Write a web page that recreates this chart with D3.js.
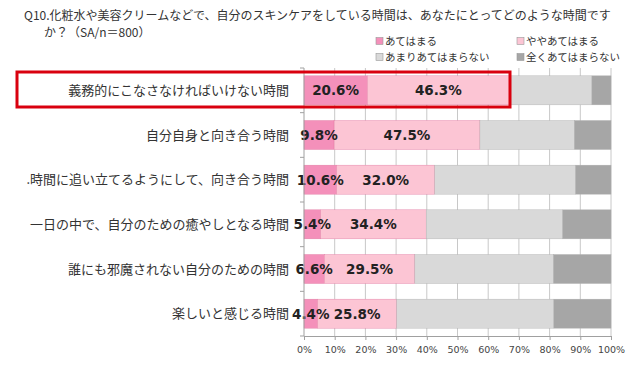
<!DOCTYPE html>
<html>
<head>
<meta charset="utf-8">
<script src="https://cdn.jsdelivr.net/npm/d3@7"></script>
<style>
  body { margin: 0; background: #fff; }
  svg { display: block; font-family: "Noto Sans CJK JP", "Noto Sans", sans-serif; }
</style>
</head>
<body>
<svg id="chart" width="640" height="378"></svg>
<script>
// Q10 スキンケアの時間 — 100% 積み上げ横棒
const categories = [
  '義務的にこなさなければいけない時間',
  '自分自身と向き合う時間',
  '.時間に追い立てるようにして、向き合う時間',
  '一日の中で、自分のための癒やしとなる時間',
  '誰にも邪魔されない自分のための時間',
  '楽しいと感じる時間'
];
const seriesNames = ['あてはまる', 'ややあてはまる', 'あまりあてはまらない', '全くあてはまらない'];
const atehamaru   = [20.6, 9.8, 10.6, 5.4, 6.6, 4.4];
const yaya        = [46.3, 47.5, 32.0, 34.4, 29.5, 25.8];
const amari       = [26.9, 30.8, 45.9, 44.5, 45.2, 51.2];
const mattaku     = [6.2, 11.9, 11.5, 15.7, 18.7, 18.6];
const xTicks = [0, 10, 20, 30, 40, 50, 60, 70, 80, 90, 100];

const colors = ['#f490ba', '#fcc5d4', '#d9d9d9', '#a6a6a6'];

const svg = d3.select('#chart');
const M = { left: 304, right: 611, top: 68, bottom: 336 };

const x = d3.scaleLinear().domain([0, 100]).range([M.left, M.right]);
const y = d3.scaleBand().domain(categories).range([M.top, M.bottom]).paddingInner(0.35).paddingOuter(0.175);

// タイトル（2行）
svg.append('text').attr('x', 24).attr('y', 20)
  .attr('font-size', 12).attr('fill', '#333')
  .text('Q10.化粧水や美容クリームなどで、自分のスキンケアをしている時間は、あなたにとってどのような時間です');
svg.append('text').attr('x', 44).attr('y', 37)
  .attr('font-size', 12).attr('fill', '#333')
  .text('か？（SA/n＝800）');

// 凡例
const legendPos = [[376, 41], [517, 41], [376, 57], [517, 57]];
seriesNames.forEach((name, i) => {
  const [lx, ly] = legendPos[i];
  svg.append('rect').attr('x', lx).attr('y', ly - 3.5).attr('width', 7).attr('height', 7)
    .attr('fill', colors[i]).attr('stroke', '#999').attr('stroke-width', 0.6);
  svg.append('text').attr('x', lx + 9).attr('y', ly + 4)
    .attr('font-size', 10.5).attr('fill', '#333').text(name);
});

// グリッド線
svg.append('g').selectAll('line').data(xTicks.slice(1)).join('line')
  .attr('x1', d => x(d)).attr('x2', d => x(d))
  .attr('y1', M.top).attr('y2', M.bottom)
  .attr('stroke', '#c8c8c8').attr('stroke-width', 1);

// 積み上げ
const rows = categories.map((c, i) => ({
  cat: c, v: [atehamaru[i], yaya[i], amari[i], mattaku[i]]
}));
const stack = d3.stack().keys([0, 1, 2, 3]).value((d, k) => d.v[k]);
const layers = stack(rows);

const gBars = svg.append('g');
layers.forEach((layer, k) => {
  gBars.selectAll(null).data(layer).join('rect')
    .attr('x', d => x(d[0]))
    .attr('y', d => y(d.data.cat))
    .attr('width', d => x(d[1]) - x(d[0]))
    .attr('height', y.bandwidth())
    .attr('fill', colors[k])
    .attr('stroke', k < 2 ? '#e07aa2' : '#b0b0b0')
    .attr('stroke-width', 0.4);
});

// 値ラベル（あてはまる・ややあてはまる）
layers.slice(0, 2).forEach(layer => {
  svg.append('g').selectAll('text').data(layer).join('text')
    .attr('x', d => (x(d[0]) + x(d[1])) / 2)
    .attr('y', d => y(d.data.cat) + y.bandwidth() / 2 + 5)
    .attr('text-anchor', 'middle')
    .attr('font-family', 'Verdana, "DejaVu Sans", sans-serif')
    .attr('font-weight', 700).attr('font-size', 13.5).attr('fill', '#222')
    .text(d => (d[1] - d[0]).toFixed(1) + '%');
});

// y軸
const yAxis = svg.append('g').attr('transform', `translate(${M.left},0)`);
yAxis.append('line').attr('x1', 0).attr('x2', 0).attr('y1', M.top).attr('y2', M.bottom)
  .attr('stroke', '#a0a0a0');
const bounds = d3.range(categories.length + 1).map(i => M.top + i * y.step());
yAxis.selectAll('line.t').data(bounds).join('line').attr('class', 't')
  .attr('x1', -4).attr('x2', 0).attr('y1', d => d).attr('y2', d => d)
  .attr('stroke', '#a0a0a0');
svg.append('g').selectAll('text').data(categories).join('text')
  .attr('x', 289).attr('y', d => y(d) + y.bandwidth() / 2 + 4.5)
  .attr('text-anchor', 'end').attr('font-size', 13).attr('fill', '#333')
  .text(d => d);

// x軸
const xAxis = svg.append('g').attr('transform', `translate(0,${M.bottom})`)
  .call(d3.axisBottom(x).tickValues(xTicks).tickFormat(d => d + '%').tickSize(4).tickPadding(6));
xAxis.select('.domain').attr('stroke', '#a0a0a0');
xAxis.selectAll('line').attr('stroke', '#a0a0a0');
xAxis.selectAll('text').attr('font-size', 9.5).attr('fill', '#444')
  .attr('font-family', 'Verdana, "DejaVu Sans", sans-serif');

// 強調枠
svg.append('rect').attr('x', 17).attr('y', 72).attr('width', 493).attr('height', 35)
  .attr('fill', 'none').attr('stroke', '#d9000e').attr('stroke-width', 3);
</script>
</body>
</html>
